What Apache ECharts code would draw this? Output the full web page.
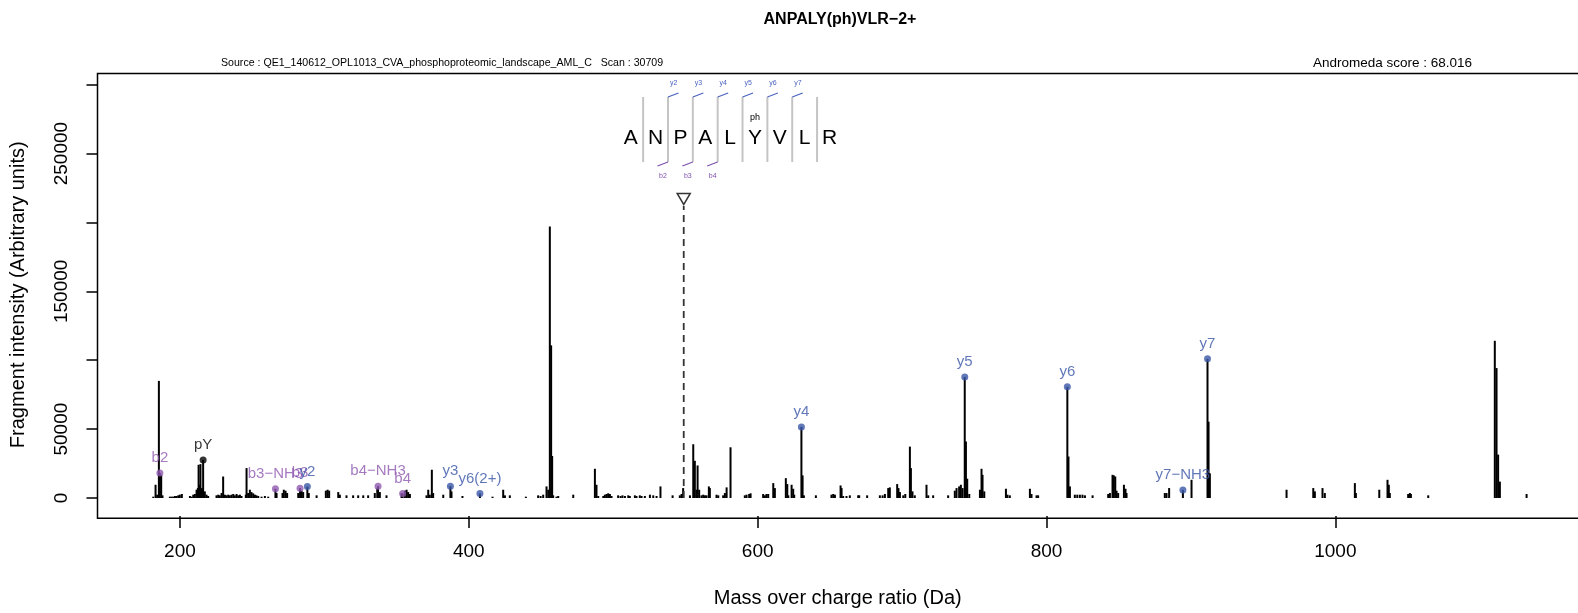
<!DOCTYPE html>
<html lang="en">
<head>
<meta charset="utf-8">
<title>ANPALY(ph)VLR-2+ spectrum</title>
<script src="https://cdn.jsdelivr.net/npm/echarts@6/dist/echarts.min.js"></script>
<style>
  html, body { margin: 0; padding: 0; background: #fff; }
  #chart { width: 1578px; height: 613px; }
</style>
</head>
<body>
<div id="chart"></div>
<script>
// ---- data ----
var peakMz = [
  181.5, 183.1, 184.2, 185.4, 186.09, 187.0, 187.9, 193.0, 194.2, 195.3, 196.5, 197.6, 198.8, 199.9, 201.3,
  206.9, 208.0, 209.2, 210.3, 211.5, 212.4, 212.9, 213.8, 214.2, 215.2, 216.04, 217.2, 218.4, 219.5,
  225.3, 226.5, 227.6, 228.8, 229.9, 231.1, 232.2, 233.4, 234.5, 235.7, 236.9, 238.0, 239.2, 240.3, 241.5, 242.6,
  245.6, 246.1, 247.2, 248.4, 249.5, 250.7, 251.9, 253.0, 254.2, 256.5, 258.8, 261.1,
  266.11, 266.9, 271.0, 271.9, 273.1, 274.2, 281.9, 283.14, 284.2, 285.3, 288.2, 289.2, 294.6,
  301.0, 302.2, 303.3, 309.6, 310.7, 315.3, 319.9, 323.4, 326.9, 330.3, 334.9, 336.6, 337.15, 338.4, 343.0,
  353.4, 354.18, 355.7, 356.9, 358.0, 359.2, 370.7, 371.9, 373.0, 374.4, 375.3, 382.3, 387.25, 388.0, 395.6, 407.7,
  416.4, 423.8, 425.0, 428.4, 439.5, 448.0, 449.7, 451.5, 453.8, 455.0, 456.1, 457.0, 457.7, 458.4, 460.7, 461.9,
  472.3, 487.3, 488.4, 489.6, 493.1, 494.2, 495.4, 496.5, 497.7, 498.8, 503.4, 505.1, 506.4, 508.1, 510.4, 511.5,
  515.0, 516.1, 518.4, 519.6, 521.9, 525.4, 527.7, 530.0, 532.7, 541.1, 546.1, 547.3, 548.4,
  553.1, 555.4, 556.5, 557.7, 558.4, 559.5, 561.1, 562.3, 563.5, 564.6, 566.2, 566.9, 571.5, 572.7, 576.1, 577.3,
  578.5, 581.2, 591.1, 592.3, 594.1, 595.1, 603.8, 605.0, 606.1, 607.3, 610.8, 611.9, 619.5, 620.5, 621.2,
  623.5, 624.6, 625.3, 630.29, 631.1, 632.0, 640.3, 651.1, 652.3, 653.5,
  657.4, 658.1, 659.2, 661.5, 663.8, 669.6, 670.3, 675.8, 684.6, 686.5, 688.1, 690.4, 691.5, 696.6, 697.5, 698.5,
  700.8, 702.2, 705.4, 706.1, 707.2, 708.8, 716.9, 718.1, 721.5, 731.9, 736.5, 737.7, 739.5, 740.7, 741.9,
  743.38, 744.2, 745.1, 746.5, 753.9, 755.0, 755.7, 756.9, 771.9, 773.0, 774.6, 788.5, 789.6, 793.1, 794.2,
  814.42, 815.2, 816.2, 819.6, 821.3, 823.1, 824.9, 826.6, 831.9, 842.7, 843.9, 845.7, 846.6, 847.6, 848.5, 849.6,
  853.6, 854.7, 855.4, 881.9, 883.1, 884.9, 894.43,
  900.4, 911.47, 912.2, 913.1, 966.2, 984.7, 985.8, 991.1, 992.7, 1013.5, 1014.2, 1030.4, 1036.1, 1037.0, 1037.7,
  1050.4, 1051.6, 1052.3, 1064.3, 1110.4, 1111.6, 1112.7, 1113.9, 1132.4
];
var peakIntensity = [
  960, 9600, 2400, 85000, 18200, 16800, 1930, 960, 960, 960, 1440, 1440, 1930, 2400, 2900,
  1440, 960, 2400, 2900, 6000, 7200, 24100, 9600, 24600, 7200, 27600, 4800, 2400, 1440,
  1930, 2400, 1930, 3600, 15600, 2400, 1930, 2400, 1930, 2400, 2900, 1930, 2900, 1930, 2400, 1440,
  2400, 21700, 3600, 6000, 4300, 3400, 2400, 1930, 1440, 960, 1440, 960,
  6640, 3600, 3600, 6000, 5300, 3600, 3600, 7150, 5300, 4300, 8300, 3600, 1930,
  5300, 6000, 5300, 4300, 2400, 1930, 1930, 1930, 1930, 1930, 3600, 7200, 8600, 4300, 1930,
  3600, 3250, 5300, 6000, 4300, 2900, 1930, 6000, 2400, 20500, 3600, 2400, 8600, 4800, 1440, 3250,
  960, 6000, 1930, 1930, 960, 1930, 1440, 2400, 8400, 6000, 197000, 110800, 30500, 1930, 960, 1440,
  2400, 21200, 9600, 1440, 1440, 2400, 2900, 3400, 2900, 1440, 1930, 1440, 1930, 1440, 1930, 1440,
  1930, 1440, 1930, 1440, 1440, 2400, 1930, 1440, 8400, 1930, 1930, 2900, 7200,
  1930, 39000, 27000, 6000, 23600, 6000, 1930, 2400, 1930, 1930, 8400, 7200, 2400, 1930, 1930, 3600,
  7700, 36800, 1930, 2400, 2900, 3400, 2900, 1930, 2900, 2900, 10800, 7200, 14400, 10100, 1930,
  9600, 6700, 2400, 51600, 16400, 1930, 1930, 2400, 2900, 2400,
  9100, 7200, 1440, 1440, 1930, 1930, 1930, 1930, 1930, 1930, 2900, 7200, 7700, 10100, 7200, 4300,
  1930, 2900, 37300, 21700, 4800, 1930, 9600, 1930, 1930, 1930, 5300, 7200, 8400, 9600, 7200,
  87900, 41000, 14000, 2900, 6000, 21200, 16800, 4800, 6700, 2400, 1930, 6700, 2900, 1930, 1930,
  80700, 30100, 8400, 2400, 2400, 2400, 2400, 1930, 1930, 2900, 3600, 16800, 16400, 15600, 5300, 3600,
  9600, 6700, 3600, 3600, 3600, 7200, 5850,
  13200, 101000, 55400, 17900, 6000, 7200, 4800, 7200, 3600, 10800, 3600, 6000, 13200, 9600, 3600,
  2900, 3600, 2900, 1930, 114100, 94300, 31500, 11900, 2900
];

// matched fragment ions
var ionLabels = ['b2', 'pY', 'b3\u2212NH3', 'b3', 'y2', 'b4\u2212NH3', 'b4', 'y3', 'y6(2+)',
                 'y4', 'y5', 'y6', 'y7\u2212NH3', 'y7'];
var ionMz = [186.09, 216.04, 266.11, 283.14, 288.20, 337.15, 354.18, 387.25, 407.70,
             630.29, 743.38, 814.42, 894.43, 911.47];
var ionIntensity = [18200, 27600, 6640, 7150, 8300, 8600, 3250, 8600, 3250,
                    51600, 87900, 80700, 5850, 101000];
var ionType = ['b', 'imm', 'b', 'b', 'y', 'b', 'b', 'y', 'y', 'y', 'y', 'y', 'y', 'y'];

// precursor marker
var precursorMz = 548.8;
var precursorMarker = 217000;
var precursorLineTop = 212000;

// peptide sequence ladder
var sequence = ['A', 'N', 'P', 'A', 'L', 'Y', 'V', 'L', 'R'];
var modSite = 5, modLabel = 'ph';
var yLadder = ['y2', 'y3', 'y4', 'y5', 'y6', 'y7'];   // separators 1..6
var bLadder = ['b2', 'b3', 'b4'];                     // separators 1..3

// axes
var xTickValues = [200, 400, 600, 800, 1000];
var yTickValues = [0, 50000, 100000, 150000, 200000, 250000, 300000];
var yLabelValues = [0, 50000, 150000, 250000];

// ---- drawing ----
var FONT = '"Liberation Sans", Arial, Helvetica, sans-serif';
var BLUE = '#3a56a8', PURPLE = '#9059b0';
var typeColor = { b: PURPLE, y: BLUE, imm: '#000' };
var GRID = { left: 97.5, top: 73.5, bottom: 94.7 };

var peaks = peakMz.map(function (m, i) { return [m, peakIntensity[i]]; });

function ionSeries(type) {
  var items = [];
  ionLabels.forEach(function (lab, i) {
    if (ionType[i] === type) items.push({ name: lab, value: [ionMz[i], ionIntensity[i]] });
  });
  return {
    type: 'scatter', data: items, symbolSize: 7, z: 5, silent: true,
    itemStyle: { color: typeColor[type] },
    label: { show: true, position: 'top', distance: 4, formatter: '{b}',
             color: typeColor[type], fontSize: 15, fontFamily: FONT }
  };
}

// sequence ladder graphic
var g = [];
var seqX0 = 630.7, seqStep = 24.85, seqY = 138, sepTop = 97, sepBot = 162;
sequence.forEach(function (aa, i) {
  g.push({ type: 'text', x: seqX0 + i * seqStep, y: seqY,
    style: { text: aa, fontSize: 21, fontFamily: FONT, fill: '#000', align: 'center', verticalAlign: 'middle' } });
});
g.push({ type: 'text', x: seqX0 + modSite * seqStep, y: 118,
  style: { text: modLabel, fontSize: 9, fontFamily: FONT, fill: '#000', align: 'center', verticalAlign: 'middle' } });
for (var j = 0; j < sequence.length - 1; j++) {
  var sx = seqX0 + (j + 0.5) * seqStep;
  g.push({ type: 'line', shape: { x1: sx, y1: sepTop, x2: sx, y2: sepBot },
    style: { stroke: '#c4c4c4', lineWidth: 2 } });
  if (j >= 1 && j - 1 < yLadder.length) {
    g.push({ type: 'line', shape: { x1: sx, y1: sepTop, x2: sx + 10.5, y2: sepTop - 4 },
      style: { stroke: '#4a62c0', lineWidth: 1.2 } });
    g.push({ type: 'text', x: sx + 5.6, y: 83.5,
      style: { text: yLadder[j - 1], fontSize: 7, fontFamily: FONT, fill: '#4a62c0', align: 'center', verticalAlign: 'middle' } });
  }
  if (j >= 1 && j - 1 < bLadder.length) {
    g.push({ type: 'line', shape: { x1: sx, y1: sepBot, x2: sx - 10.5, y2: sepBot + 4 },
      style: { stroke: '#7d50b0', lineWidth: 1.2 } });
    g.push({ type: 'text', x: sx - 5, y: 176.5,
      style: { text: bLadder[j - 1], fontSize: 7, fontFamily: FONT, fill: '#7d50b0', align: 'center', verticalAlign: 'middle' } });
  }
}
// plot box (its right side runs off the page, as in the original)
g.push({ type: 'rect', z: 10, silent: true,
  shape: { x: GRID.left, y: GRID.top, width: 1500, height: 613 - GRID.top - GRID.bottom },
  style: { fill: 'none', stroke: '#000', lineWidth: 1.5 } });
// header texts
g.push({ type: 'text', x: 840, y: 20,
  style: { text: 'ANPALY(ph)VLR\u22122+', fontSize: 16, fontWeight: 'bold', fontFamily: FONT, fill: '#000', align: 'center', verticalAlign: 'middle' } });
g.push({ type: 'text', x: 221, y: 63.5,
  style: { text: 'Source : QE1_140612_OPL1013_CVA_phosphoproteomic_landscape_AML_C   Scan : 30709', fontSize: 10.6, fontFamily: FONT, fill: '#000', align: 'left', verticalAlign: 'middle' } });
g.push({ type: 'text', x: 1472, y: 63.5,
  style: { text: 'Andromeda score : 68.016', fontSize: 13.5, fontFamily: FONT, fill: '#000', align: 'right', verticalAlign: 'middle' } });

function plain(v) { return String(v); }

var option = {
  animation: false,
  backgroundColor: '#fff',
  textStyle: { fontFamily: FONT },
  grid: { left: GRID.left, right: 0, top: GRID.top, bottom: GRID.bottom, show: false },
  xAxis: {
    type: 'value', min: 142.9, max: 1168,
    axisLine: { show: false, onZero: false }, splitLine: { show: false },
    axisTick: { length: 12, lineStyle: { color: '#000', width: 1.5 }, customValues: xTickValues },
    axisLabel: { customValues: xTickValues, formatter: plain, fontSize: 19, color: '#000', margin: 26 },
    name: 'Mass over charge ratio (Da)', nameLocation: 'middle', nameGap: 72,
    nameTextStyle: { fontSize: 20, color: '#000' }
  },
  yAxis: {
    type: 'value', min: -13070, max: 308130,
    axisLine: { show: false, onZero: false }, splitLine: { show: false },
    axisTick: { length: 11, lineStyle: { color: '#000', width: 1.5 }, customValues: yTickValues },
    axisLabel: { customValues: yLabelValues, formatter: plain, rotate: 90, fontSize: 19, color: '#000', margin: 26 },
    name: 'Fragment intensity (Arbitrary units)', nameLocation: 'middle', nameGap: 69,
    nameTextStyle: { fontSize: 20, color: '#000' }
  },
  series: [
    { type: 'bar', data: peaks, barWidth: 2, itemStyle: { color: '#000' }, silent: true, z: 2 },
    { type: 'line', data: [[precursorMz, 0], [precursorMz, precursorLineTop]], symbol: 'none', silent: true, z: 3,
      lineStyle: { color: '#333', width: 1.8, type: [7, 5] } },
    { type: 'scatter', data: [[precursorMz, precursorMarker]], symbol: 'triangle', symbolRotate: 180,
      symbolSize: [13, 11], silent: true, z: 4,
      itemStyle: { color: '#fff', borderColor: '#000', borderWidth: 1.5 } },
    ionSeries('b'), ionSeries('y'), ionSeries('imm')
  ],
  graphic: g
};

var chart = echarts.init(document.getElementById('chart'));
chart.setOption(option);
</script>
</body>
</html>
